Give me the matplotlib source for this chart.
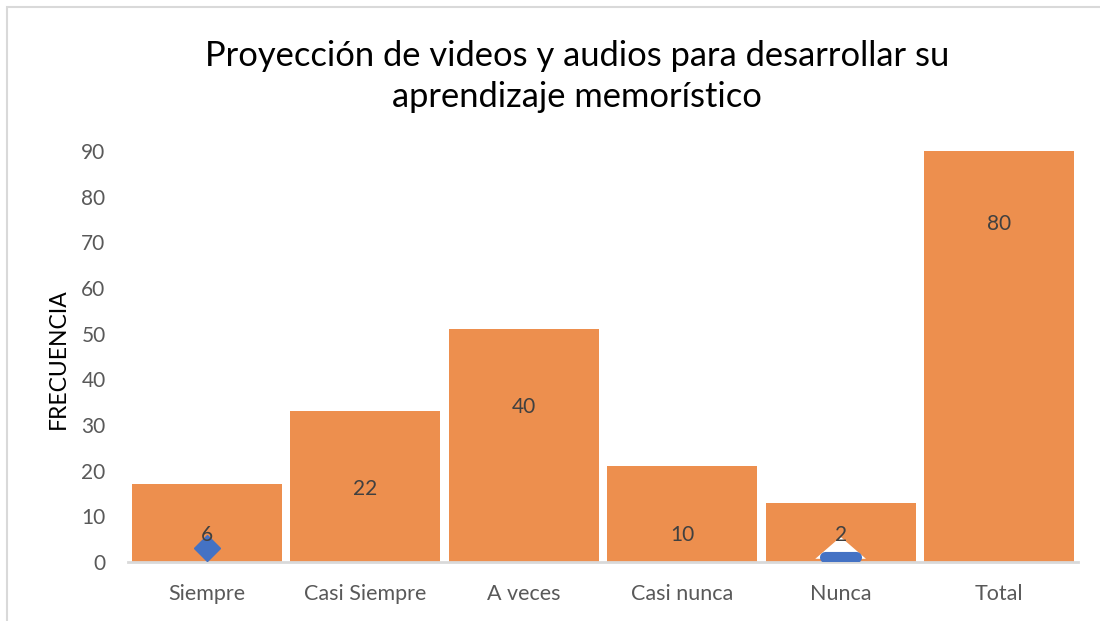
import matplotlib
matplotlib.use("Agg")
import matplotlib.pyplot as plt
from matplotlib.patches import Rectangle, Polygon

categories = ["Siempre", "Casi Siempre", "A veces", "Casi nunca", "Nunca", "Total"]
frecuencia = [6, 22, 40, 10, 2, 80]          # data-label values
bar_tops = [17, 33, 51, 21, 13, 90]          # visible bar heights
yticks = [0, 10, 20, 30, 40, 50, 60, 70, 80, 90]

title = "Proyección de videos y audios para desarrollar su\naprendizaje memorístico"
ylabel = "FRECUENCIA"

FONT = "Lato"
ORANGE = "#ED8F4E"
BLUE = "#4472C4"

fig = plt.figure(figsize=(11, 6.21), dpi=100)
ax = fig.add_axes([0.1162, 0.095, 0.9802 - 0.1162, 0.7568 - 0.095])

x = list(range(len(categories)))
ax.bar(x, bar_tops, width=0.946, color=ORANGE, zorder=2)

ax.set_xlim(-0.5, len(categories) - 0.5)
ax.set_ylim(0, 90)
ax.set_yticks(yticks)
ax.set_yticklabels([str(t) for t in yticks], fontsize=15, color="#595959", family=FONT)
ax.set_xticks(x)
ax.set_xticklabels(categories, fontsize=15.5, color="#595959", family=FONT)
ax.tick_params(axis="both", length=0)
ax.tick_params(axis="x", pad=16)
ax.tick_params(axis="y", pad=16)
for s in ["top", "right", "left"]:
    ax.spines[s].set_visible(False)
ax.spines["bottom"].set_color("#D9D9D9")
ax.spines["bottom"].set_linewidth(2)
ax.spines["bottom"].set_zorder(3)

# data labels (Excel "inside end" placement)
for xi, v in zip(x, frecuencia):
    ax.text(xi, max(v, 12) - 6, str(v), ha="center", va="center",
            fontsize=15, color="#404040", family=FONT, zorder=5)

# stray markers from the original chart
ax.plot([0], [frecuencia[0] / 2], marker="D", markersize=13, color=BLUE,
        markeredgecolor=BLUE, zorder=4, clip_on=False)
tri = Polygon([(3.84, 0.7), (4.16, 0.7), (4.0, 5.5)], closed=True,
              facecolor="white", edgecolor="none", zorder=4)
ax.add_patch(tri)
ax.plot([3.9, 4.1], [1.0, 1.0], color=BLUE, linewidth=8,
        solid_capstyle="round", zorder=4)

ax.set_ylabel(ylabel, fontsize=16.5, color="black", family=FONT)
ax.yaxis.set_label_coords(-0.0615, 0.496)

fig.text(0.5245, 0.8765, title, ha="center", va="center", fontsize=24.8,
         color="black", family=FONT, linespacing=1.36)

# chart border
fig.patches.append(Rectangle((7 / 1100, -0.1), 1.2, 1 - 7 / 621 + 0.1,
                             transform=fig.transFigure, fill=False,
                             edgecolor="#D9D9D9", linewidth=1.5))

fig.savefig("out.png", dpi=100)
